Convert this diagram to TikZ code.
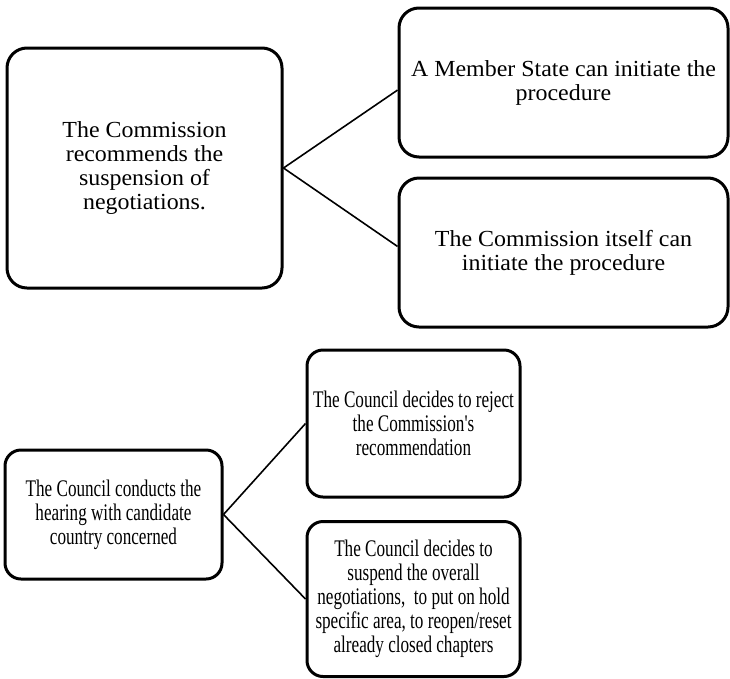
\documentclass[tikz,border=0pt]{standalone}
\usepackage{fontspec}
\setmainfont{Liberation Serif}
\newfontfamily\topfont[FakeStretch=1.04]{Liberation Serif}
\newfontfamily\condfont[FakeStretch=0.72]{Liberation Serif}
\usetikzlibrary{calc}
\tikzset{
  topbox/.style={draw=black, line width=3pt, rounded corners=20pt, align=center, inner sep=0pt,
    font=\topfont\fontsize{23}{24}\selectfont},
  botbox/.style={draw=black, line width=3pt, rounded corners=16pt, align=center, inner sep=0pt,
    font=\condfont\fontsize{23.8}{24}\selectfont},
  link/.style={draw=black, line width=1.6pt}
}
\begin{document}
\begin{tikzpicture}[x=1pt,y=-1pt]
\useasboundingbox (0,0) rectangle (730,678);
\node[topbox, minimum width=275pt, minimum height=240pt] (A) at (144.5,168)
  {The Commission\\recommends the\\suspension of\\negotiations.};
\node[topbox, minimum width=329pt, minimum height=149pt] (B) at (563.5,82.5)
  {A Member State can initiate the\\procedure};
\node[topbox, minimum width=329pt, minimum height=149pt] (C) at (563.5,252.5)
  {The Commission itself can\\initiate the procedure};
\node[botbox, minimum width=217pt, minimum height=129pt] (D) at (113.5,514.5)
  {The Council conducts the\\hearing with candidate\\country concerned};
\node[botbox, minimum width=213pt, minimum height=147pt] (E) at (413.5,423.5)
  {The Council decides to reject\\the Commission's\\recommendation};
\node[botbox, minimum width=213pt, minimum height=155pt] (F) at (413.5,599)
  {The Council decides to\\suspend the overall\\negotiations,\ \ to put on hold\\specific area, to reopen/reset\\already closed chapters};
\draw[link] (A.east) -- ($(B.south west)!0.45!(B.north west)$);
\draw[link] (A.east) -- ($(C.south west)!0.54!(C.north west)$);
\draw[link] (D.east) -- (E.west);
\draw[link] (D.east) -- (F.west);
\end{tikzpicture}
\end{document}
